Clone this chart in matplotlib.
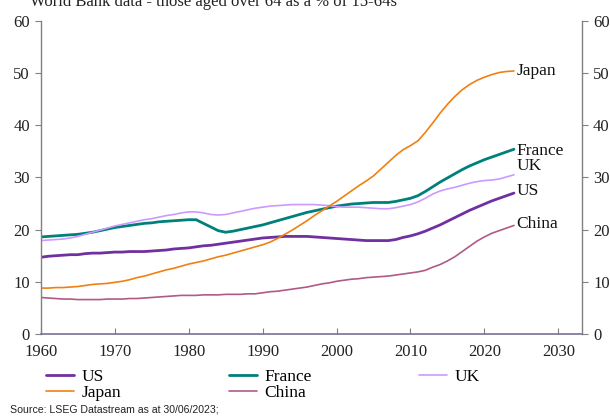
import matplotlib
matplotlib.use("Agg")
import matplotlib.pyplot as plt

years = list(range(1960, 2025))

us = [14.7, 14.9, 15.0, 15.1, 15.2, 15.2, 15.4, 15.5, 15.5, 15.6,
      15.7, 15.7, 15.8, 15.8, 15.8, 15.9, 16.0, 16.1, 16.3, 16.4,
      16.5, 16.7, 16.9, 17.0, 17.2, 17.4, 17.6, 17.8, 18.0, 18.2,
      18.4, 18.5, 18.6, 18.7, 18.7, 18.7, 18.7, 18.6, 18.5, 18.4,
      18.3, 18.2, 18.1, 18.0, 17.9, 17.9, 17.9, 17.9, 18.1, 18.5,
      18.8, 19.2, 19.7, 20.3, 20.9, 21.6, 22.3, 23.0, 23.7, 24.3,
      24.9, 25.5, 26.0, 26.5, 27.0]

france = [18.6, 18.7, 18.8, 18.9, 19.0, 19.1, 19.3, 19.5, 19.8, 20.1,
          20.4, 20.6, 20.8, 21.0, 21.2, 21.3, 21.5, 21.6, 21.7, 21.8,
          21.9, 21.9, 21.2, 20.5, 19.8, 19.5, 19.7, 20.0, 20.3, 20.6,
          20.9, 21.3, 21.7, 22.1, 22.5, 22.9, 23.3, 23.6, 23.9, 24.2,
          24.5, 24.7, 24.9, 25.0, 25.1, 25.2, 25.2, 25.2, 25.4, 25.7,
          26.0, 26.5, 27.3, 28.2, 29.1, 29.9, 30.7, 31.5, 32.2, 32.8,
          33.4, 33.9, 34.4, 34.9, 35.4]

uk = [17.9, 18.0, 18.1, 18.2, 18.4, 18.7, 19.1, 19.5, 19.9, 20.3,
      20.7, 21.0, 21.3, 21.6, 21.9, 22.1, 22.4, 22.7, 22.9, 23.2,
      23.4, 23.4, 23.2, 22.9, 22.8, 22.9, 23.2, 23.5, 23.8, 24.1,
      24.3, 24.5, 24.6, 24.7, 24.8, 24.8, 24.8, 24.8, 24.7, 24.6,
      24.4, 24.3, 24.3, 24.3, 24.2, 24.1, 24.0, 24.0, 24.2, 24.5,
      24.8, 25.3, 26.0, 26.8, 27.4, 27.8, 28.1, 28.5, 28.9, 29.2,
      29.4, 29.5, 29.7, 30.1, 30.5]

japan = [8.8, 8.8, 8.9, 8.9, 9.0, 9.1, 9.3, 9.5, 9.6, 9.7,
         9.9, 10.1, 10.4, 10.8, 11.1, 11.5, 11.9, 12.3, 12.6, 13.0,
         13.4, 13.7, 14.0, 14.4, 14.8, 15.1, 15.5, 15.9, 16.3, 16.7,
         17.1, 17.6, 18.3, 19.1, 19.9, 20.8, 21.7, 22.7, 23.6, 24.5,
         25.4, 26.4, 27.4, 28.4, 29.3, 30.3, 31.6, 32.9, 34.2, 35.3,
         36.1, 37.0, 38.6, 40.4, 42.3, 44.0, 45.5, 46.8, 47.8, 48.6,
         49.2, 49.7, 50.1, 50.3, 50.4]

china = [7.0, 6.9, 6.8, 6.7, 6.7, 6.6, 6.6, 6.6, 6.6, 6.7,
         6.7, 6.7, 6.8, 6.8, 6.9, 7.0, 7.1, 7.2, 7.3, 7.4,
         7.4, 7.4, 7.5, 7.5, 7.5, 7.6, 7.6, 7.6, 7.7, 7.7,
         7.9, 8.1, 8.2, 8.4, 8.6, 8.8, 9.0, 9.3, 9.6, 9.8,
         10.1, 10.3, 10.5, 10.6, 10.8, 10.9, 11.0, 11.1, 11.3, 11.5,
         11.7, 11.9, 12.2, 12.8, 13.3, 14.0, 14.8, 15.8, 16.8, 17.8,
         18.6, 19.3, 19.8, 20.3, 20.8]

series_names = ["US", "France", "UK", "Japan", "China"]
series_values = [us, france, uk, japan, china]
colors = ["#7030a0", "#00807a", "#cc99ff", "#f08010", "#b05a85"]
widths = [2.0, 2.0, 1.2, 1.2, 1.2]
# vertical nudges (points) for the end labels so they don't collide
label_nudge = {"US": 1.5, "France": -1.0, "UK": 6, "Japan": 0, "China": 1.0}

x_ticks = [1960, 1970, 1980, 1990, 2000, 2010, 2020, 2030]
y_ticks = [0, 10, 20, 30, 40, 50, 60]

serif = ["Liberation Serif", "DejaVu Serif"]
plt.rcParams["font.family"] = serif

fig = plt.figure(figsize=(6.1, 4.17), dpi=100)
ax = fig.add_axes([0.067, 0.199, 0.887, 0.751])

lines = {}
for name, vals, c, w in zip(series_names, series_values, colors, widths):
    ln, = ax.plot(years, vals, color=c, lw=w, label=name, solid_capstyle="round")
    lines[name] = ln
    ax.annotate(name, xy=(years[-1], vals[-1]), xytext=(2, label_nudge[name]),
                textcoords="offset points", ha="left", va="center",
                fontsize=12.5, color="#111111")

ax.set_xlim(1960, 2033.2)
ax.set_ylim(0, 60)
ax.set_xticks(x_ticks)
ax.set_yticks(y_ticks)

ax.spines["top"].set_visible(False)
for s in ["left", "right"]:
    ax.spines[s].set_color("#808080")
    ax.spines[s].set_linewidth(1.0)
ax.spines["bottom"].set_color("#7d7090")
ax.spines["bottom"].set_linewidth(1.2)

ax.tick_params(axis="y", which="both", direction="out", length=4, width=0.8,
               color="#808080", labelsize=12, labelcolor="#222222",
               left=True, right=True, labelleft=True, labelright=True, pad=4)
ax.tick_params(axis="x", direction="in", length=4, width=0.8, color="#808080",
               labelsize=12, labelcolor="#222222", pad=7)

# legend filled row by row: US, France, UK / Japan, China
order = ["US", "Japan", "France", "China", "UK"]
leg = fig.legend(handles=[lines[n] for n in order], labels=order, ncol=3,
                 frameon=False, loc="upper left",
                 bbox_to_anchor=(46 / 610, 1 - 369 / 417),
                 fontsize=12.5, handlelength=1.6, handletextpad=0.45,
                 columnspacing=6.2, labelspacing=0.0,
                 borderpad=0.0, borderaxespad=0.0)

fig.text(30 / 610, 1.0 - 2 / 417, "World Bank data - those aged over 64 as a % of 15-64s",
         ha="left", va="center", fontsize=12, color="#222222")
fig.text(10 / 610, 1.0 - 409 / 417, "Source: LSEG Datastream as at 30/06/2023;",
         ha="left", va="center", fontsize=7.6, color="#222222",
         family=["Liberation Sans", "DejaVu Sans"])

fig.savefig("out.png", dpi=100)
